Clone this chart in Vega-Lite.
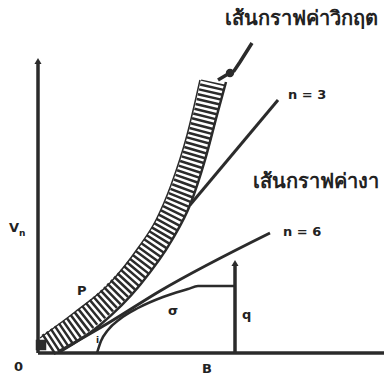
{
  "$schema": "https://vega.github.io/schema/vega-lite/v6.json",
  "width": 384,
  "height": 376,
  "padding": 0,
  "autosize": {"type": "none"},
  "background": "white",
  "config": {"view": {"stroke": null}},
  "datasets": {
    "bandCenter": [
      {"x": 10, "y": 8}, {"x": 46, "y": 33}, {"x": 80, "y": 63}, {"x": 106, "y": 93},
      {"x": 126, "y": 123}, {"x": 141, "y": 153}, {"x": 155, "y": 193}, {"x": 166, "y": 233}, {"x": 175, "y": 271}
    ],
    "bandUpper": [
      {"x": 2, "y": 15}, {"x": 37, "y": 41}, {"x": 72, "y": 70}, {"x": 100, "y": 105},
      {"x": 118, "y": 133}, {"x": 133, "y": 168}, {"x": 149, "y": 218}, {"x": 162, "y": 273}
    ],
    "bandLower": [
      {"x": 22, "y": 1}, {"x": 62, "y": 28}, {"x": 102, "y": 68}, {"x": 134, "y": 113},
      {"x": 152, "y": 148}, {"x": 167, "y": 193}, {"x": 179, "y": 238}, {"x": 188, "y": 271}
    ],
    "n3": [{"x": 152, "y": 148}, {"x": 240, "y": 253}],
    "n6": [{"x": 20, "y": 1}, {"x": 72, "y": 31}, {"x": 122, "y": 62}, {"x": 232, "y": 120}],
    "tip": [{"x": 180, "y": 273}, {"x": 190, "y": 279}, {"x": 196, "y": 282}, {"x": 202, "y": 291}, {"x": 214, "y": 310}],
    "work": [
      {"x": 59, "y": 0}, {"x": 63, "y": 12}, {"x": 70, "y": 23}, {"x": 82, "y": 34}, {"x": 100, "y": 45},
      {"x": 125, "y": 56}, {"x": 150, "y": 64}, {"x": 160, "y": 67}, {"x": 197, "y": 67}
    ],
    "rules": [
      {"x": 0, "y": 0, "x2": 346, "y2": 0},
      {"x": 0, "y": 0, "x2": 0, "y2": 290},
      {"x": 197, "y": 0, "x2": 197, "y2": 88}
    ],
    "heads": [{"x": 0, "y": 292}, {"x": 197, "y": 90}],
    "corner": [{"x": 3, "y": 8}],
    "blob": [{"x": 192, "y": 280}],
    "thai": [
      {"x": 187, "y": 334, "label": "เส้นกราฟค่าวิกฤต"},
      {"x": 215, "y": 171, "label": "เส้นกราฟค่างา"}
    ],
    "marks": [
      {"x": 250, "y": 258, "label": "n = 3"},
      {"x": 245, "y": 121, "label": "n = 6"},
      {"x": -29, "y": 125, "label": "V"},
      {"x": 39, "y": 62, "label": "P"},
      {"x": -24, "y": -14, "label": "0"},
      {"x": 164, "y": -16, "label": "B"},
      {"x": 130, "y": 42, "label": "σ"},
      {"x": 204, "y": 38, "label": "q"}
    ],
    "subs": [{"x": -19, "y": 120, "label": "n"}, {"x": 58, "y": 13, "label": "i"}]
  },
  "layer": [
    {
      "data": {"name": "bandCenter"},
      "mark": {"type": "line", "strokeWidth": 24, "strokeDash": [2.5, 2.5], "color": "#2b2b2b", "interpolate": "monotone"},
      "encoding": {
        "x": {"field": "x", "type": "quantitative", "scale": {"domain": [-38, 346]}, "axis": null},
        "y": {"field": "y", "type": "quantitative", "scale": {"domain": [-23, 353]}, "axis": null}
      }
    },
    {
      "data": {"name": "bandUpper"},
      "mark": {"type": "line", "strokeWidth": 1.5, "color": "#2b2b2b", "interpolate": "monotone"},
      "encoding": {
        "x": {"field": "x", "type": "quantitative", "scale": {"domain": [-38, 346]}, "axis": null},
        "y": {"field": "y", "type": "quantitative", "scale": {"domain": [-23, 353]}, "axis": null}
      }
    },
    {
      "data": {"name": "bandLower"},
      "mark": {"type": "line", "strokeWidth": 2.5, "color": "#2b2b2b", "interpolate": "monotone"},
      "encoding": {
        "x": {"field": "x", "type": "quantitative", "scale": {"domain": [-38, 346]}, "axis": null},
        "y": {"field": "y", "type": "quantitative", "scale": {"domain": [-23, 353]}, "axis": null}
      }
    },
    {
      "data": {"name": "n3"},
      "mark": {"type": "line", "strokeWidth": 3, "color": "#2b2b2b"},
      "encoding": {
        "x": {"field": "x", "type": "quantitative", "scale": {"domain": [-38, 346]}, "axis": null},
        "y": {"field": "y", "type": "quantitative", "scale": {"domain": [-23, 353]}, "axis": null}
      }
    },
    {
      "data": {"name": "n6"},
      "mark": {"type": "line", "strokeWidth": 3, "color": "#2b2b2b", "interpolate": "monotone"},
      "encoding": {
        "x": {"field": "x", "type": "quantitative", "scale": {"domain": [-38, 346]}, "axis": null},
        "y": {"field": "y", "type": "quantitative", "scale": {"domain": [-23, 353]}, "axis": null}
      }
    },
    {
      "data": {"name": "tip"},
      "mark": {"type": "line", "strokeWidth": 3.5, "color": "#2b2b2b"},
      "encoding": {
        "x": {"field": "x", "type": "quantitative", "scale": {"domain": [-38, 346]}, "axis": null},
        "y": {"field": "y", "type": "quantitative", "scale": {"domain": [-23, 353]}, "axis": null}
      }
    },
    {
      "data": {"name": "work"},
      "mark": {"type": "line", "strokeWidth": 2.5, "color": "#2b2b2b", "interpolate": "monotone"},
      "encoding": {
        "x": {"field": "x", "type": "quantitative", "scale": {"domain": [-38, 346]}, "axis": null},
        "y": {"field": "y", "type": "quantitative", "scale": {"domain": [-23, 353]}, "axis": null}
      }
    },
    {
      "data": {"name": "rules"},
      "mark": {"type": "rule", "strokeWidth": 3.5, "color": "#2b2b2b"},
      "encoding": {
        "x": {"field": "x", "type": "quantitative", "scale": {"domain": [-38, 346]}, "axis": null},
        "y": {"field": "y", "type": "quantitative", "scale": {"domain": [-23, 353]}, "axis": null},
        "x2": {"field": "x2"},
        "y2": {"field": "y2"}
      }
    },
    {
      "data": {"name": "heads"},
      "mark": {"type": "point", "shape": "triangle-up", "filled": true, "size": 50, "color": "#2b2b2b", "opacity": 1},
      "encoding": {
        "x": {"field": "x", "type": "quantitative", "scale": {"domain": [-38, 346]}, "axis": null},
        "y": {"field": "y", "type": "quantitative", "scale": {"domain": [-23, 353]}, "axis": null}
      }
    },
    {
      "data": {"name": "corner"},
      "mark": {"type": "point", "shape": "square", "filled": true, "size": 110, "color": "#2b2b2b", "opacity": 1},
      "encoding": {
        "x": {"field": "x", "type": "quantitative", "scale": {"domain": [-38, 346]}, "axis": null},
        "y": {"field": "y", "type": "quantitative", "scale": {"domain": [-23, 353]}, "axis": null}
      }
    },
    {
      "data": {"name": "blob"},
      "mark": {"type": "point", "shape": "circle", "filled": true, "size": 70, "color": "#2b2b2b", "opacity": 1},
      "encoding": {
        "x": {"field": "x", "type": "quantitative", "scale": {"domain": [-38, 346]}, "axis": null},
        "y": {"field": "y", "type": "quantitative", "scale": {"domain": [-23, 353]}, "axis": null}
      }
    },
    {
      "data": {"name": "thai"},
      "mark": {"type": "text", "align": "left", "baseline": "middle", "font": "Noto Sans", "fontSize": 20, "fontWeight": "bold", "color": "#222"},
      "encoding": {
        "x": {"field": "x", "type": "quantitative", "scale": {"domain": [-38, 346]}, "axis": null},
        "y": {"field": "y", "type": "quantitative", "scale": {"domain": [-23, 353]}, "axis": null},
        "text": {"field": "label"}
      }
    },
    {
      "data": {"name": "marks"},
      "mark": {"type": "text", "align": "left", "baseline": "middle", "font": "DejaVu Sans", "fontSize": 13, "fontWeight": "bold", "color": "#222"},
      "encoding": {
        "x": {"field": "x", "type": "quantitative", "scale": {"domain": [-38, 346]}, "axis": null},
        "y": {"field": "y", "type": "quantitative", "scale": {"domain": [-23, 353]}, "axis": null},
        "text": {"field": "label"}
      }
    },
    {
      "data": {"name": "subs"},
      "mark": {"type": "text", "align": "left", "baseline": "middle", "font": "DejaVu Sans", "fontSize": 9, "fontWeight": "bold", "color": "#222"},
      "encoding": {
        "x": {"field": "x", "type": "quantitative", "scale": {"domain": [-38, 346]}, "axis": null},
        "y": {"field": "y", "type": "quantitative", "scale": {"domain": [-23, 353]}, "axis": null},
        "text": {"field": "label"}
      }
    }
  ]
}
